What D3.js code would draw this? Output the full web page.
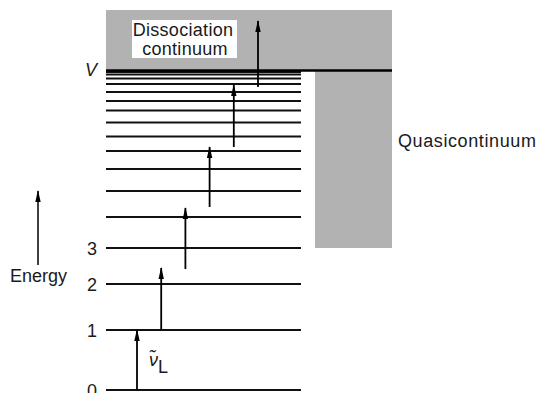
<!DOCTYPE html>
<html>
<head>
<meta charset="utf-8">
<script src="https://cdn.jsdelivr.net/npm/d3@7"></script>
<style>
  html, body { margin: 0; padding: 0; background: #fff; }
  svg { display: block; font-family: "Liberation Sans", Arial, sans-serif; }
</style>
</head>
<body>
<svg id="chart" width="537" height="393"></svg>
<script>
// ---- data (energies in arbitrary units, 0 = ground level) ----
const levelEnergies = [0, 60, 106, 142, 173, 199, 221, 239, 253.5, 267.5, 279.5, 289, 298, 306, 311.5, 315.5, 318, 319];
const levelLabels = ["0", "1", "2", "3"];
const dissociationEnergy = 319.5;   // V
const quasiStartEnergy = 142;       // quasicontinuum begins at level 3
const continuumTopEnergy = 380;
const photonStarts = [0, 60, 121, 183, 243, 303];
const photonEnds   = [60, 122, 182, 243, 305, 369];
const continuumText = ["Dissociation", "continuum"];
const quasiText = "Quasicontinuum";
const energyText = "Energy";
const dissocText = "V";
const photonSymbol = "\u03BD\u0303";
const photonSub = "L";

// ---- layout ----
const svg = d3.select("#chart");
const y = d3.scaleLinear().domain([0, continuumTopEnergy]).range([390, 10]);
const xLevels = [106, 301];
const xCont = [106, 392];
const xQuasi = [315, 392];
const xStep = d3.scaleLinear().domain([0, photonStarts.length - 1]).range([137, 258]);
const grey = "#b2b2b2";
const ink = "#1a1a1a";

// arrow marker
const defs = svg.append("defs");
defs.append("marker")
  .attr("id", "head")
  .attr("markerUnits", "userSpaceOnUse")
  .attr("viewBox", "0 -3 12 6")
  .attr("refX", 11).attr("refY", 0)
  .attr("markerWidth", 12).attr("markerHeight", 6)
  .attr("orient", "auto")
  .append("path").attr("d", "M0,-2.7L12,0L0,2.7Z").attr("fill", "#000");

// dissociation continuum region
svg.append("rect")
  .attr("x", xCont[0]).attr("y", y(continuumTopEnergy))
  .attr("width", xCont[1] - xCont[0])
  .attr("height", y(dissociationEnergy) - y(continuumTopEnergy))
  .attr("fill", grey);

// quasicontinuum region
svg.append("rect")
  .attr("x", xQuasi[0]).attr("y", y(dissociationEnergy))
  .attr("width", xQuasi[1] - xQuasi[0])
  .attr("height", y(quasiStartEnergy) - y(dissociationEnergy))
  .attr("fill", grey);

// white label box
svg.append("rect")
  .attr("x", 132).attr("y", 20).attr("width", 105).attr("height", 38)
  .attr("fill", "#fff");

svg.selectAll("text.cont").data(continuumText).join("text")
  .attr("class", "cont")
  .attr("x", (d, i) => i === 0 ? 183 : 185)
  .attr("y", (d, i) => i === 0 ? 36 : 55)
  .attr("text-anchor", "middle")
  .attr("font-size", 18)
  .attr("letter-spacing", 0.3)
  .attr("fill", ink)
  .text(d => d);

// vibrational levels
svg.selectAll("line.level").data(levelEnergies).join("line")
  .attr("class", "level")
  .attr("x1", xLevels[0]).attr("x2", xLevels[1])
  .attr("y1", d => y(d)).attr("y2", d => y(d))
  .attr("stroke", "#111")
  .attr("stroke-width", 1.8);

// dissociation limit V
svg.append("line")
  .attr("x1", xCont[0]).attr("x2", xCont[1])
  .attr("y1", y(dissociationEnergy)).attr("y2", y(dissociationEnergy))
  .attr("stroke", "#000").attr("stroke-width", 2.6);

svg.append("text")
  .attr("x", 85).attr("y", y(dissociationEnergy) + 5)
  .attr("font-size", 18).attr("font-style", "italic")
  .attr("fill", ink)
  .text(dissocText);

// level numbers
svg.selectAll("text.lvl").data(levelLabels).join("text")
  .attr("class", "lvl")
  .attr("x", 97)
  .attr("y", (d, i) => y(levelEnergies[i]) + 7)
  .attr("text-anchor", "end")
  .attr("font-size", 18)
  .attr("fill", ink)
  .text(d => d);

// photon absorption arrows
svg.selectAll("line.photon").data(photonStarts).join("line")
  .attr("class", "photon")
  .attr("x1", (d, i) => xStep(i)).attr("x2", (d, i) => xStep(i))
  .attr("y1", d => y(d)).attr("y2", (d, i) => y(photonEnds[i]))
  .attr("stroke", "#000").attr("stroke-width", 1.8)
  .attr("marker-end", "url(#head)");

// photon label  ~nu_L
const nu = svg.append("text")
  .attr("x", xStep(0) + 12).attr("y", 366)
  .attr("font-size", 18).attr("fill", ink);
nu.append("tspan").attr("font-style", "italic").text(photonSymbol);
nu.append("tspan").attr("dy", 7).text(photonSub);

// Quasicontinuum label
svg.append("text")
  .attr("x", 398).attr("y", 147)
  .attr("font-size", 18).attr("letter-spacing", 0.6)
  .attr("fill", ink)
  .text(quasiText);

// Energy axis arrow
svg.append("line")
  .attr("x1", 38).attr("x2", 38)
  .attr("y1", 265).attr("y2", 191)
  .attr("stroke", "#000").attr("stroke-width", 1.5)
  .attr("marker-end", "url(#head)");

svg.append("text")
  .attr("x", 10).attr("y", 282)
  .attr("font-size", 18)
  .attr("fill", ink)
  .text(energyText);
</script>
</body>
</html>
